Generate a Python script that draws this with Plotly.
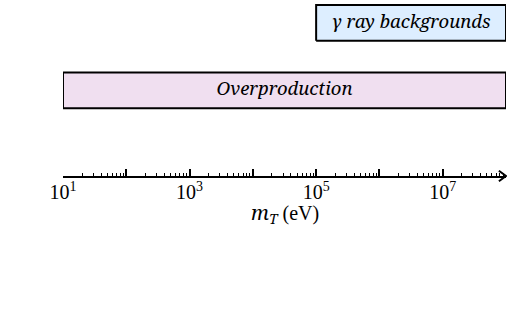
import plotly.graph_objects as go

# Data
labels = ["γ ray backgrounds", "Overproduction"]
x_min = [1e5, 1e1]
x_max = [1e8, 1e8]
rows = [2, 1]
fills = ["#ddeeff", "#f0dff0"]

major_ticks = [10 ** k for k in range(1, 8)]
tick_text = ["10<sup>1</sup>", "", "10<sup>3</sup>", "", "10<sup>5</sup>", "", "10<sup>7</sup>"]
minor_ticks = [d * 10 ** k for k in range(1, 8) for d in range(2, 10)]
axis_title = ("<span style='font-family:Noto Serif'><i>m</i></span>"
              "<sub><span style='font-family:Noto Serif'><i>T</i></span></sub> (eV)")

half_h = 0.265
serif = "Liberation Serif"
serif_it = "Noto Serif"

fig = go.Figure()
for lab, a, b, r, c in zip(labels, x_min, x_max, rows, fills):
    fig.add_trace(go.Scatter(
        x=[a, b, b, a, a], y=[r - half_h, r - half_h, r + half_h, r + half_h, r - half_h],
        mode="lines", fill="toself", fillcolor=c,
        line=dict(color="black", width=2), cliponaxis=False,
        hoverinfo="skip", showlegend=False))
    fig.add_trace(go.Scatter(
        x=[(a * b) ** 0.5], y=[r], mode="text", text=[f"<i>{lab}</i>"],
        textfont=dict(family=serif_it, size=18.5, color="black"),
        textposition="middle center", cliponaxis=False,
        hoverinfo="skip", showlegend=False))

fig.update_layout(
    width=507, height=313,
    margin=dict(l=63, r=1, t=0, b=137),
    paper_bgcolor="white", plot_bgcolor="white",
    font=dict(family=serif, size=19, color="black"),
    xaxis=dict(
        type="log", range=[1, 8],
        showline=True, linecolor="black", linewidth=2,
        showgrid=False, zeroline=False,
        ticks="inside", ticklen=7, tickwidth=1.5, tickcolor="black",
        tickmode="array", tickvals=major_ticks, ticktext=tick_text,
        tickfont=dict(family=serif, size=20), ticklabelstandoff=-3,
        minor=dict(ticks="inside", ticklen=3, tickwidth=1, tickcolor="black",
                   tickmode="array", tickvals=minor_ticks, showgrid=False),
    ),
    yaxis=dict(range=[1 - 1.267, 2.34], visible=False, fixedrange=True),
)

fig.add_annotation(text=axis_title, xref="paper", yref="paper", x=0.5, y=0,
                   yanchor="middle", yshift=-37, showarrow=False,
                   font=dict(family=serif, size=20, color="black"))

# arrow head at end of axis
fig.add_shape(type="path", xref="paper", yref="paper",
              path="M 0.984,0.03 L 1.0,0 L 0.984,-0.03",
              line=dict(color="black", width=2))

fig.write_html("out.html", config={"displayModeBar": False},
               post_script="document.body.style.margin='0';")
